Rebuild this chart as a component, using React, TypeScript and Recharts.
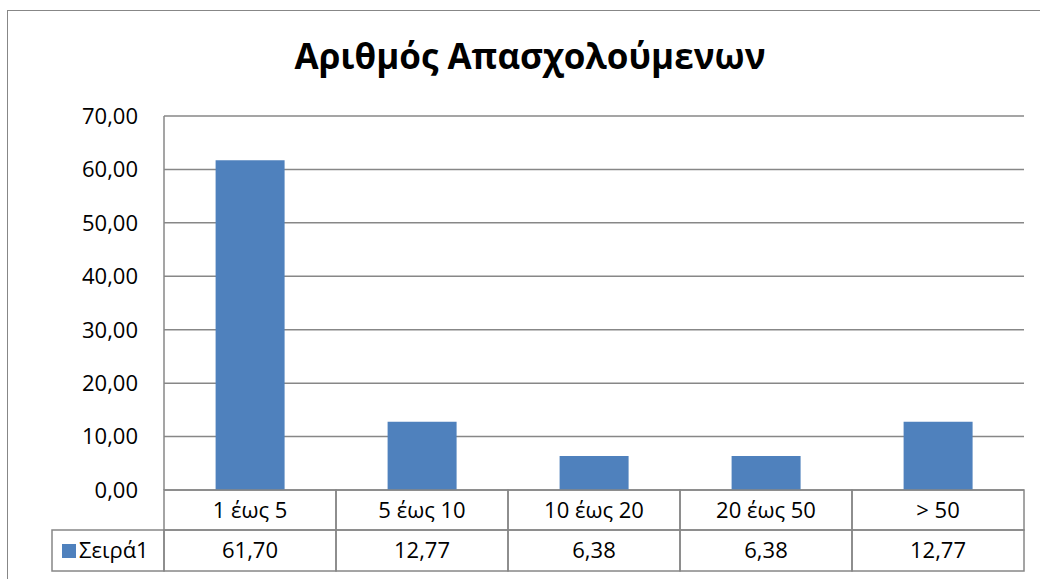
import { BarChart, Bar, XAxis, YAxis, CartesianGrid } from 'recharts';

const categories = ['1 έως 5', '5 έως 10', '10 έως 20', '20 έως 50', '> 50'];
const values = [61.7, 12.77, 6.38, 6.38, 12.77];
const seriesName = 'Σειρά1';
const yTicks = [0, 10, 20, 30, 40, 50, 60, 70];

const data = categories.map((name, i) => ({ name, value: values[i] }));

const FONT = '"Open Sans", "Noto Sans", sans-serif';
const GRID = '#878787';
const BLUE = '#4F81BD';
const PLOT_LEFT = 164;
const PLOT_RIGHT = 1024;
const CELL_W = (PLOT_RIGHT - PLOT_LEFT) / categories.length;
const ROW1 = 40;
const ROW2 = 41;

const fmt = (v: number) => v.toFixed(2).replace('.', ',');

// category row + data row of the table under the plot
const TableTick = (props: any) => {
    const { x, y, payload, index } = props;
    const left = x - CELL_W / 2;
    return (
        <g>
            <rect x={left} y={y} width={CELL_W} height={ROW1} fill="none" stroke={GRID} strokeWidth={1.5} />
            <rect x={left} y={y + ROW1} width={CELL_W} height={ROW2} fill="none" stroke={GRID} strokeWidth={1.5} />
            <text x={x} y={y + 28} textAnchor="middle" fontSize={22} fontFamily={FONT} fill="#000">
                {payload.value}
            </text>
            <text x={x} y={y + ROW1 + 28} textAnchor="middle" fontSize={22} fontFamily={FONT} fill="#000">
                {fmt(values[index])}
            </text>
            {index === 0 && (
                <g>
                    <rect x={52} y={y + ROW1} width={left - 52} height={ROW2} fill="none" stroke={GRID} strokeWidth={1.5} />
                    <rect x={62} y={y + ROW1 + 14} width={14} height={14} fill={BLUE} />
                    <text x={79} y={y + ROW1 + 28} fontSize={22} fontFamily={FONT} fill="#000">
                        {seriesName}
                    </text>
                </g>
            )}
        </g>
    );
};

export default function App() {
    return (
        <div style={{ position: 'absolute', left: 0, top: 0, width: 1040, height: 579, overflow: 'hidden', background: '#fff' }}>
            {/* chart area border */}
            <div style={{ position: 'absolute', left: 7, top: 10, width: 1100, height: 700, borderLeft: `1.5px solid ${GRID}`, borderTop: `1.5px solid ${GRID}` }} />
            <div style={{ position: 'absolute', left: 0, width: 1060, top: 32, textAlign: 'center', fontFamily: FONT, fontWeight: 700, fontSize: 35, color: '#000' }}>
                Αριθμός Απασχολούμενων
            </div>
            <div style={{ position: 'absolute', left: 0, top: 0 }}>
                <BarChart
                    width={1040}
                    height={579}
                    data={data}
                    margin={{ top: 116, right: 1040 - PLOT_RIGHT, bottom: 8, left: PLOT_LEFT - 100 }}
                    barCategoryGap="30%"
                >
                    <CartesianGrid vertical={false} stroke={GRID} strokeWidth={1.5} />
                    <XAxis
                        dataKey="name"
                        height={ROW1 + ROW2}
                        axisLine={false}
                        tickLine={false}
                        tickSize={0}
                        tickMargin={0}
                        interval={0}
                        tick={<TableTick />}
                    />
                    <YAxis
                        width={100}
                        domain={[0, 70]}
                        ticks={yTicks}
                        tickFormatter={fmt}
                        axisLine={{ stroke: GRID, strokeWidth: 1.5 }}
                        tickLine={false}
                        tickSize={0}
                        tickMargin={26}
                        tick={{ fill: '#000', fontSize: 22, fontFamily: FONT }}
                    />
                    <Bar dataKey="value" name={seriesName} fill={BLUE} isAnimationActive={false} />
                </BarChart>
            </div>
        </div>
    );
}
